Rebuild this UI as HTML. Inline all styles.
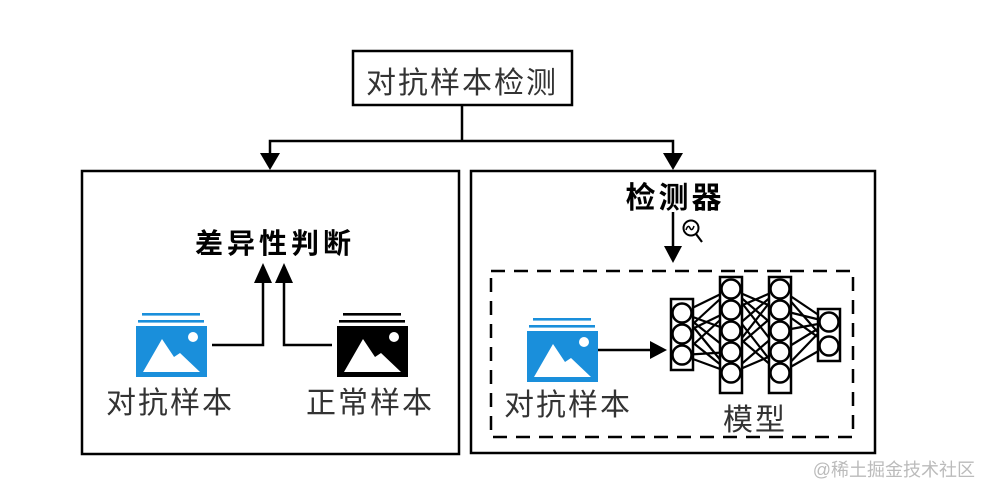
<!DOCTYPE html>
<html><head><meta charset="utf-8"><style>
html,body{margin:0;padding:0;background:#fff;}
svg{display:block;}
text{font-family:"Liberation Sans","Noto Sans CJK SC",sans-serif;}
</style></head><body>
<svg width="992" height="496" viewBox="0 0 992 496" xmlns="http://www.w3.org/2000/svg">
<defs>
<g id="img">
  <rect x="6" y="0" width="58" height="2.6"/>
  <rect x="2" y="7" width="66" height="2.6"/>
  <rect x="0" y="13" width="71" height="51"/>
  <polygon points="7,59 26,26 38,44 44,40 64,59" fill="#fff"/>
  <circle cx="57" cy="24" r="5" fill="#fff"/>
</g>
</defs>
<rect width="992" height="496" fill="#fff"/>
<rect x="353" y="51" width="219" height="54" fill="#fff" stroke="#000" stroke-width="2.5"/>
<text x="462" y="93" font-size="30" text-anchor="middle" fill="#333" letter-spacing="2">对抗样本检测</text>
<g stroke="#000" stroke-width="2.5" fill="none">
<polyline points="462,105 462,141"/>
<polyline points="270,155 270,141 673,141 673,155"/>
</g>
<polygon points="260,153 280,153 270,170" fill="#000"/>
<polygon points="663,153 683,153 673,170" fill="#000"/>
<rect x="82" y="171" width="377" height="283" fill="none" stroke="#000" stroke-width="2.5"/>
<text x="275" y="253" font-size="28" font-weight="bold" text-anchor="middle" letter-spacing="4">差异性判断</text>
<g stroke="#000" stroke-width="2.5" fill="none">
<polyline points="212,345 263,345 263,280"/>
<polyline points="332,345 284,345 284,280"/>
</g>
<polygon points="254,283 272,283 263,263" fill="#000"/>
<polygon points="275,283 293,283 284,263" fill="#000"/>
<use href="#img" x="136" y="313" fill="#1a8fdb"/>
<use href="#img" x="337" y="313" fill="#000"/>
<text x="170" y="413" font-size="30" text-anchor="middle" fill="#333" letter-spacing="2">对抗样本</text>
<text x="370" y="413" font-size="30" text-anchor="middle" fill="#333" letter-spacing="2">正常样本</text>
<rect x="471" y="171" width="404" height="282" fill="none" stroke="#000" stroke-width="2.5"/>
<text x="675" y="208" font-size="30" font-weight="bold" text-anchor="middle" letter-spacing="3">检测器</text>
<line x1="673" y1="212" x2="673" y2="248" stroke="#000" stroke-width="2.5"/>
<polygon points="664,246 682,246 673,263" fill="#000"/>
<circle cx="691" cy="228" r="7.5" fill="#fff" stroke="#000" stroke-width="2"/>
<path d="M686,230 q2,-6 4,-2 q2,4 4,-2" fill="none" stroke="#000" stroke-width="1.5"/>
<line x1="696" y1="234" x2="702" y2="242" stroke="#000" stroke-width="2.2"/>
<rect x="491" y="271" width="362" height="166" fill="none" stroke="#000" stroke-width="2.5" stroke-dasharray="14,9"/>
<use href="#img" x="527" y="318" fill="#1a8fdb"/>
<line x1="598" y1="350" x2="652" y2="350" stroke="#000" stroke-width="2.5"/>
<polygon points="650,341 667,350 650,359" fill="#000"/>
<text x="568" y="415" font-size="30" text-anchor="middle" fill="#333" letter-spacing="2">对抗样本</text>
<text x="755" y="430" font-size="30" text-anchor="middle" fill="#333" letter-spacing="2">模型</text>
<g stroke="#000" stroke-width="2.2">
<g>
<line x1="682" y1="313" x2="731" y2="289"/><line x1="682" y1="313" x2="731" y2="331"/><line x1="682" y1="313" x2="731" y2="352"/><line x1="682" y1="313" x2="731" y2="373"/>
<line x1="682" y1="334" x2="731" y2="289"/><line x1="682" y1="334" x2="731" y2="310"/><line x1="682" y1="334" x2="731" y2="373"/>
<line x1="682" y1="355" x2="731" y2="310"/><line x1="682" y1="355" x2="731" y2="352"/><line x1="682" y1="355" x2="731" y2="373"/>
</g>
<g>
<line x1="731" y1="289" x2="780" y2="331"/><line x1="731" y1="289" x2="780" y2="352"/><line x1="731" y1="310" x2="780" y2="289"/><line x1="731" y1="310" x2="780" y2="373"/>
<line x1="731" y1="331" x2="780" y2="289"/><line x1="731" y1="331" x2="780" y2="373"/><line x1="731" y1="352" x2="780" y2="310"/><line x1="731" y1="352" x2="780" y2="289"/>
<line x1="731" y1="373" x2="780" y2="331"/><line x1="731" y1="289" x2="780" y2="310"/><line x1="731" y1="373" x2="780" y2="352"/>
</g>
<g>
<line x1="780" y1="289" x2="829" y2="322"/><line x1="780" y1="289" x2="829" y2="345"/><line x1="780" y1="310" x2="829" y2="322"/><line x1="780" y1="310" x2="829" y2="345"/>
<line x1="780" y1="331" x2="829" y2="322"/><line x1="780" y1="352" x2="829" y2="322"/><line x1="780" y1="373" x2="829" y2="345"/><line x1="780" y1="373" x2="829" y2="322"/>
</g>
</g>
<g fill="#fff" stroke="#000" stroke-width="2.5">
<rect x="671" y="299" width="22" height="71"/>
<rect x="720" y="277" width="22" height="116"/>
<rect x="769" y="277" width="22" height="116"/>
<rect x="818" y="309" width="22" height="52"/>
<circle cx="682" cy="313" r="9.5"/><circle cx="682" cy="334" r="9.5"/><circle cx="682" cy="355" r="9.5"/>
<circle cx="731" cy="289" r="9.5"/><circle cx="731" cy="310" r="9.5"/><circle cx="731" cy="331" r="9.5"/><circle cx="731" cy="352" r="9.5"/><circle cx="731" cy="373" r="9.5"/>
<circle cx="780" cy="289" r="9.5"/><circle cx="780" cy="310" r="9.5"/><circle cx="780" cy="331" r="9.5"/><circle cx="780" cy="352" r="9.5"/><circle cx="780" cy="373" r="9.5"/>
<circle cx="829" cy="322" r="9.5"/><circle cx="829" cy="346" r="9.5"/>
</g>
<text x="975" y="476" font-size="18" text-anchor="end" fill="#bbb">@稀土掘金技术社区</text>
</svg>
</body></html>
